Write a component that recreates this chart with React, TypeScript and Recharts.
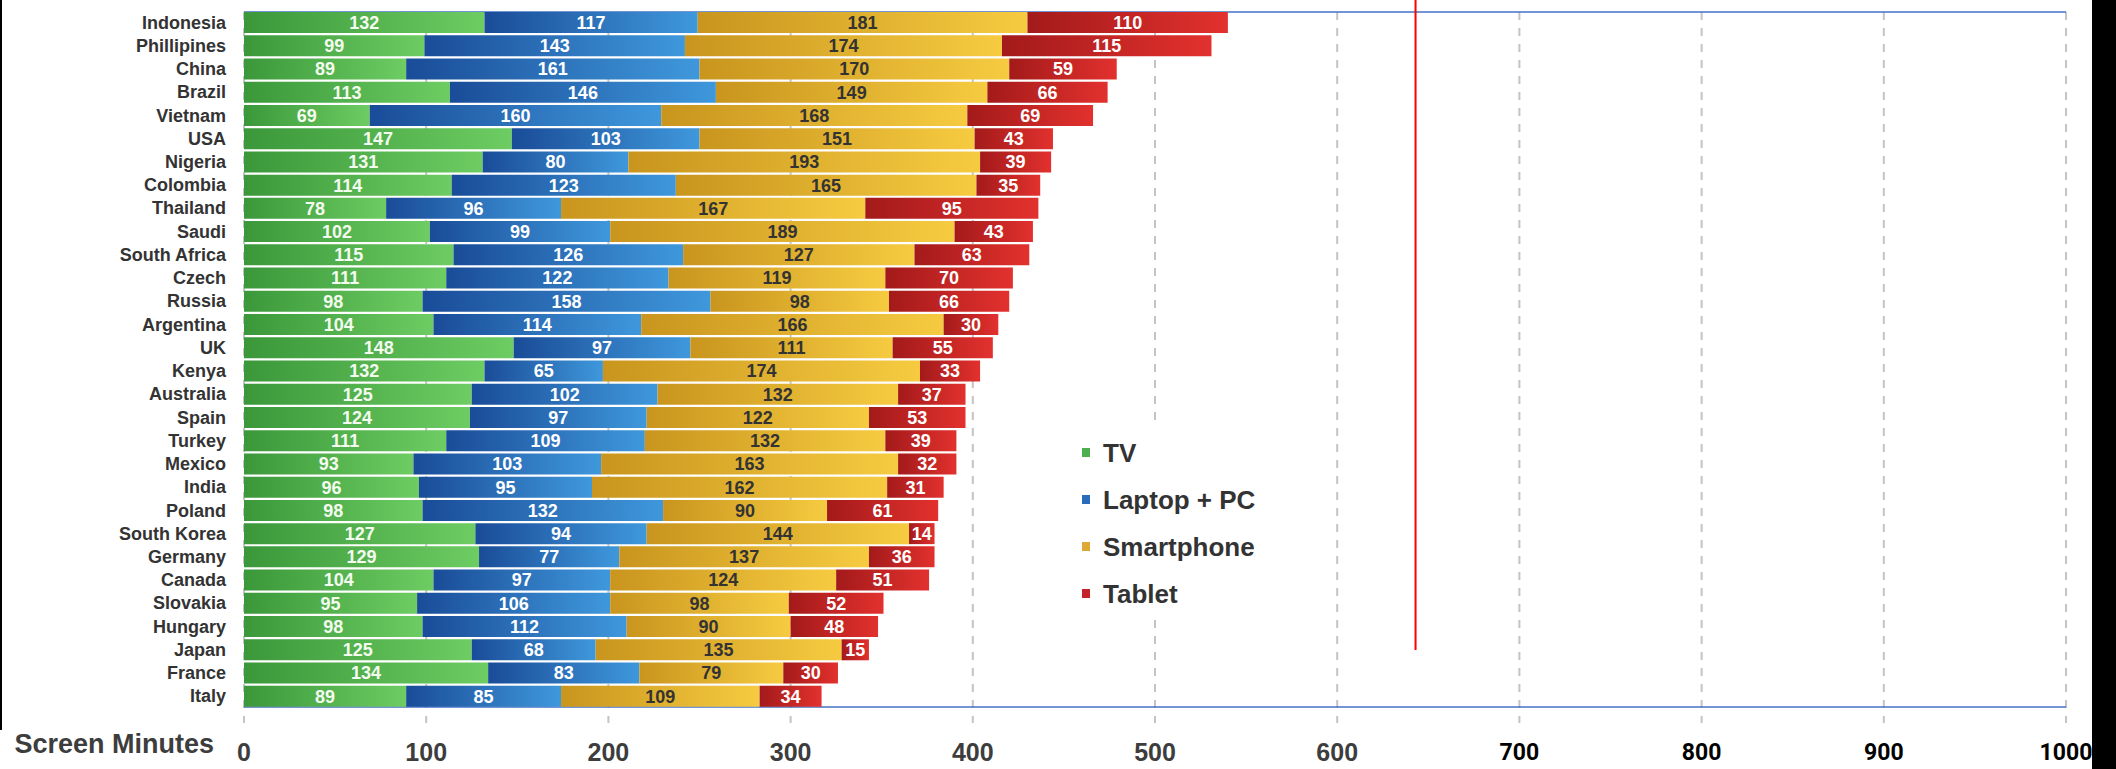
import React from 'react';
import {
  BarChart,
  Bar,
  XAxis,
  YAxis,
  CartesianGrid,
  LabelList,
  Legend,
  ReferenceLine,
} from 'recharts';

const countries = [
  'Indonesia', 'Phillipines', 'China', 'Brazil', 'Vietnam', 'USA', 'Nigeria', 'Colombia',
  'Thailand', 'Saudi', 'South Africa', 'Czech', 'Russia', 'Argentina', 'UK', 'Kenya',
  'Australia', 'Spain', 'Turkey', 'Mexico', 'India', 'Poland', 'South Korea', 'Germany',
  'Canada', 'Slovakia', 'Hungary', 'Japan', 'France', 'Italy',
];
const tv = [132, 99, 89, 113, 69, 147, 131, 114, 78, 102, 115, 111, 98, 104, 148, 132, 125, 124, 111, 93, 96, 98, 127, 129, 104, 95, 98, 125, 134, 89];
const laptop = [117, 143, 161, 146, 160, 103, 80, 123, 96, 99, 126, 122, 158, 114, 97, 65, 102, 97, 109, 103, 95, 132, 94, 77, 97, 106, 112, 68, 83, 85];
const smartphone = [181, 174, 170, 149, 168, 151, 193, 165, 167, 189, 127, 119, 98, 166, 111, 174, 132, 122, 132, 163, 162, 90, 144, 137, 124, 98, 90, 135, 79, 109];
const tablet = [110, 115, 59, 66, 69, 43, 39, 35, 95, 43, 63, 70, 66, 30, 55, 33, 37, 53, 39, 32, 31, 61, 14, 36, 51, 52, 48, 15, 30, 34];

const xTicks = [0, 100, 200, 300, 400, 500, 600, 700, 800, 900, 1000];
const markerValue = 643;
const axisTitle = 'Screen Minutes';

const series = [
  { key: 'tv', name: 'TV', grad: 'gTV', from: '#3a983a', to: '#6dcc62', swatch: '#4caf50', label: '#f4fbef' },
  { key: 'laptop', name: 'Laptop + PC', grad: 'gPC', from: '#1a4c98', to: '#3f98dc', swatch: '#2a6cbc', label: '#ffffff' },
  { key: 'smartphone', name: 'Smartphone', grad: 'gSP', from: '#c9951e', to: '#f6cb40', swatch: '#dcaa34', label: '#333333' },
  { key: 'tablet', name: 'Tablet', grad: 'gTB', from: '#a31a1a', to: '#e2312e', swatch: '#c42428', label: '#ffffff' },
];

const data = countries.map((c, i) => ({
  country: c,
  tv: tv[i],
  laptop: laptop[i],
  smartphone: smartphone[i],
  tablet: tablet[i],
}));

const FONT = "'Liberation Sans', Arial, sans-serif";

const YTick = (props: any) => {
  const { x, y, payload } = props;
  return (
    <text
      x={x - 10}
      y={y}
      textAnchor="end"
      dominantBaseline="central"
      fontFamily={FONT}
      fontWeight="bold"
      fontSize={18}
      fill="#333333"
    >
      {payload.value}
    </text>
  );
};

const XTick = (props: any) => {
  const { x, y, payload } = props;
  const v = payload.value as number;
  const right = v >= 700;
  return (
    <text
      x={x}
      y={y + 36}
      textAnchor="middle"
      dominantBaseline="central"
      fontFamily={right ? "Roboto, 'Liberation Sans', sans-serif" : FONT}
      fontWeight="bold"
      fontSize={right ? 23 : 25}
      fill={right ? '#000000' : '#3d3d3d'}
    >
      {v}
    </text>
  );
};

const AxisTitle = (props: any) => {
  const { viewBox } = props;
  return (
    <text
      x={viewBox.x - 30}
      y={viewBox.y + 36}
      textAnchor="end"
      dominantBaseline="central"
      fontFamily={FONT}
      fontWeight="bold"
      fontSize={27}
      fill="#3d3d3d"
    >
      {axisTitle}
    </text>
  );
};

const MarkerShape = (props: any) => {
  const { x1, y1, x2, y2 } = props;
  const top = Math.min(y1, y2);
  const bottom = Math.max(y1, y2);
  return (
    <line
      x1={x1}
      x2={x2}
      y1={top - 11}
      y2={bottom - 58}
      stroke="#ff0000"
      strokeWidth={2}
    />
  );
};

const LegendContent = () => (
  <div style={{ paddingTop: 4, fontFamily: FONT }}>
    {series.map((s) => (
      <div key={s.key} style={{ display: 'flex', alignItems: 'center', height: 47 }}>
        <span
          style={{
            display: 'inline-block',
            width: 8,
            height: 9,
            marginLeft: 16,
            marginRight: 13,
            background: s.swatch,
          }}
        />
        <span style={{ fontSize: 26, fontWeight: 'bold', color: '#333333', lineHeight: '30px' }}>{s.name}</span>
      </div>
    ))}
  </div>
);

export default function App() {
  return (
    <div style={{ position: 'absolute', left: 0, top: 0, width: 2116, height: 769, background: '#ffffff', overflow: 'hidden' }}>
      <BarChart
        width={2116}
        height={769}
        data={data}
        layout="vertical"
        margin={{ top: 11, right: 50, bottom: 0, left: 0 }}
        barCategoryGap={1}
      >
        <defs>
          {series.map((s) => (
            <linearGradient key={s.grad} id={s.grad} x1="0" y1="0" x2="1" y2="0">
              <stop offset="0%" stopColor={s.from} />
              <stop offset="100%" stopColor={s.to} />
            </linearGradient>
          ))}
        </defs>
        <CartesianGrid
          vertical={true}
          horizontal={false}
          stroke="#c4c4c4"
          strokeWidth={2}
          strokeDasharray="8 8"
          y={12}
          height={711}
        />
        <CartesianGrid
          vertical={false}
          horizontal={true}
          stroke="#4472c4"
          strokeWidth={1.5}
          horizontalCoordinatesGenerator={({ offset }: any) => [offset.top + 1, offset.top + offset.height - 1]}
        />
        <XAxis
          type="number"
          domain={[0, 1000]}
          ticks={xTicks}
          interval={0}
          axisLine={false}
          tickLine={false}
          height={61}
          tick={<XTick />}
          label={<AxisTitle />}
        />
        <YAxis
          type="category"
          dataKey="country"
          width={244}
          axisLine={false}
          tickLine={false}
          interval={0}
          tick={<YTick />}
        />
        {series.map((s) => (
          <Bar key={s.key} dataKey={s.key} name={s.name} stackId="a" fill={`url(#${s.grad})`} isAnimationActive={false}>
            <LabelList
              dataKey={s.key}
              position="center"
              fill={s.label}
              fontFamily={FONT}
              fontWeight="bold"
              fontSize={18}
            />
          </Bar>
        ))}
        <ReferenceLine
          x={markerValue}
          stroke="#ff0000"
          strokeWidth={2}
          ifOverflow="visible"
          shape={<MarkerShape />}
        />
        <Legend
          layout="vertical"
          align="center"
          verticalAlign="middle"
          content={<LegendContent />}
          wrapperStyle={{ left: 1066, top: 425, width: 240, height: 190, background: '#ffffff' }}
        />
      </BarChart>
      <div style={{ position: 'absolute', left: 0, top: 0, width: 2, height: 730, background: '#000' }} />
      <div style={{ position: 'absolute', left: 2092, top: 0, width: 24, height: 769, background: '#000' }} />
    </div>
  );
}
